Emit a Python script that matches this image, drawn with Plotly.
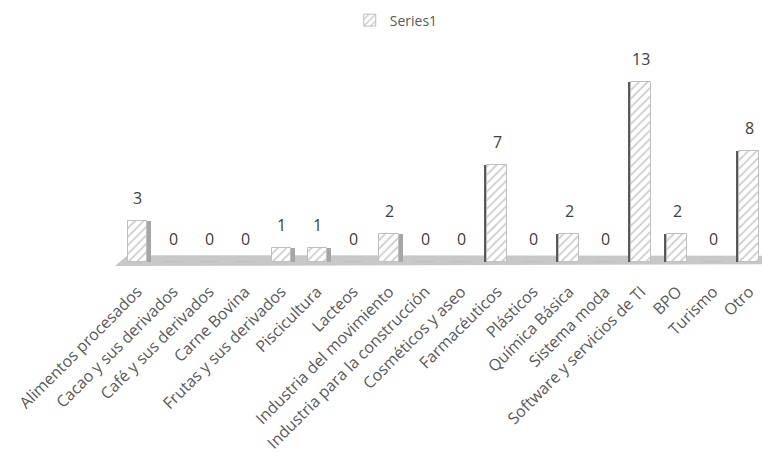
import plotly.graph_objects as go

# Sector names and number of companies per sector
sectores = [
    "Alimentos procesados", "Cacao y sus derivados", "Café y sus derivados",
    "Carne Bovina", "Frutas y sus derivados", "Piscicultura", "Lacteos",
    "Industria del movimiento", "Industria para la construcción",
    "Cosméticos y aseo", "Farmacéuticos", "Plásticos", "Química Básica",
    "Sistema moda", "Software y servicios de TI", "BPO", "Turismo", "Otro",
]
empresas = [3, 0, 0, 0, 1, 1, 0, 2, 0, 0, 7, 0, 2, 0, 13, 2, 0, 8]

FONT = "Open Sans"
TEXT = "#595959"
n = len(sectores)
idx = list(range(n))

# side face of each column: right side on the left half, left side on the right half
side_offset = [0.27 if i < n / 2 else -0.37 for i in idx]
side_color = ["#a6a6a6" if i < n / 2 else "#595959" for i in idx]

fig = go.Figure()

fig.add_trace(go.Bar(
    x=idx, y=empresas, width=0.1, offset=side_offset,
    marker=dict(color=side_color, line=dict(width=0)),
    showlegend=False, hoverinfo="skip",
))

fig.add_trace(go.Bar(
    x=idx, y=empresas, name="Series1", width=0.54, offset=-0.27,
    marker=dict(
        color="white",
        line=dict(color="#bfbfbf", width=1),
        pattern=dict(shape="/", fgcolor="#9a9a9a", bgcolor="white",
                     size=6, solidity=0.3),
    ),
))

# value labels above each column
for i, v in zip(idx, empresas):
    fig.add_annotation(x=i, y=v, text=str(v), showarrow=False,
                       yanchor="bottom", yshift=10,
                       font=dict(family=FONT, size=16, color="#404040"))

# grey floor under the columns
fig.add_shape(type="path", xref="x", yref="y", layer="below",
              path="M -0.62 -0.29 L -0.27 0.5 L 17.36 0.45 L 17.36 -0.15 Z",
              fillcolor="#c8c8c8", line=dict(width=0))

fig.update_layout(
    width=762, height=452,
    margin=dict(l=115, r=0, t=46, b=183),
    paper_bgcolor="white", plot_bgcolor="white",
    barmode="overlay", bargap=0,
    font=dict(family=FONT, color=TEXT),
    showlegend=True,
    legend=dict(orientation="h", x=0.52, xanchor="center", xref="container",
                y=0.99, yanchor="top", yref="container",
                itemwidth=30, tracegroupgap=0,
                font=dict(size=14, color=TEXT)),
    xaxis=dict(range=[-0.62, 17.36], tickmode="array", tickvals=idx,
               ticktext=sectores, tickangle=-45, showgrid=False,
               zeroline=False, showline=False, ticks="outside",
               ticklen=6, tickcolor="rgba(0,0,0,0)",
               tickfont=dict(family=FONT, size=16, color=TEXT)),
    yaxis=dict(range=[-0.5, 15.6], visible=False, showgrid=False,
               zeroline=False),
)

fig.write_html("out.html")
